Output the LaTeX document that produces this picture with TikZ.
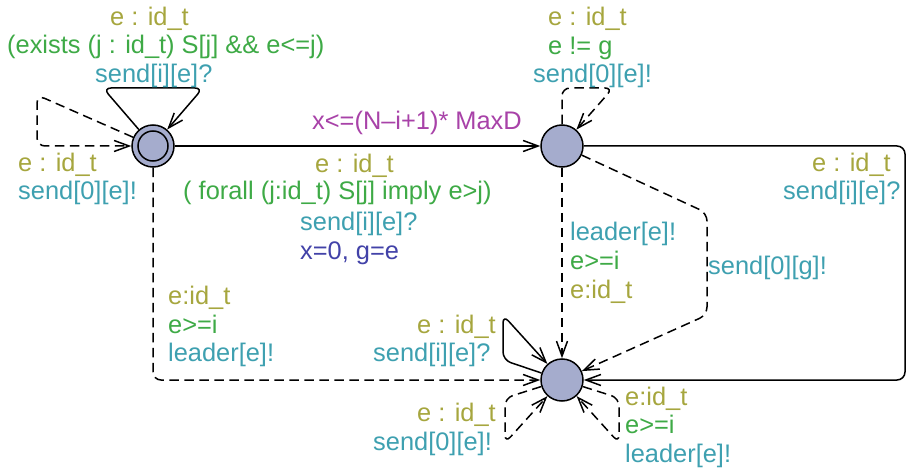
\documentclass[tikz,border=0pt]{standalone}
\usepackage{fontspec}
\setmainfont{Liberation Sans}
\usetikzlibrary{arrows.meta}
\definecolor{olv}{RGB}{166,166,62}
\definecolor{grn}{RGB}{62,170,70}
\definecolor{tel}{RGB}{62,160,176}
\definecolor{mag}{RGB}{168,66,168}
\definecolor{dbl}{RGB}{66,66,168}
\definecolor{locfill}{RGB}{165,172,205}
\begin{document}
\begin{tikzpicture}[x=1pt,y=-1pt,
  loc/.style={circle,draw,line width=1.5pt,fill=locfill,minimum size=42pt,inner sep=0pt},
  edge/.style={line width=1.5pt, rounded corners=8pt, -{Straight Barb[length=15pt,width=11pt]}},
  dsh/.style={edge, dash pattern=on 9.5pt off 5.5pt},
  lbl/.style={anchor=base west, inner sep=0pt, font=\fontsize{25.4}{30}\selectfont},
  olvl/.style={lbl,text=olv}, grnl/.style={lbl,text=grn}, tell/.style={lbl,text=tel},
  magl/.style={lbl,text=mag}, dbll/.style={lbl,text=dbl}]
\useasboundingbox (0,0) rectangle (907,473);
% locations
\node[loc] (A) at (153,146) {};
\draw[line width=1.5pt] (A.center) circle (15pt);
\node[loc] (B) at (562,146) {};
\node[loc] (C) at (562,380) {};
% edges
\draw[edge] (A) -- (B);
\draw[edge] (A) -- (103,88) -- (203,88) -- (A);
\draw[dsh] (A) -- (37,95) -- (37,146) -- (A);
\draw[dsh] (A) -- (153,380) -- (C);
\draw[dsh] (B) -- (562,88) -- (613,88) -- (B);
\draw[dsh] (B) -- (C);
\draw[dsh] (B) -- (707,213) -- (707,315) -- (C);
\draw[edge] (B) -- (905,146) -- (905,380) -- (C);
\draw[edge] (C) -- (503,360) -- (503,315) -- (C);
\draw[dsh] (C) -- (505,398) -- (505,443) -- (C);
\draw[dsh] (C) -- (619,398) -- (619,443) -- (C);
% labels
\node[olvl] (l1) at (110,26) {e : id\_t};
\node[grnl] (l2) at (7,54) {(exists (j : id\_t) S[j] \&\& e<=j)};
\node[tell] (l3) at (95,83) {send[i][e]?};
\node[olvl] (l4) at (18,172) {e : id\_t};
\node[tell] (l5) at (18,200) {send[0][e]!};
\node[magl] (l6) at (312,130) {x<=(N–i+1)* MaxD};
\node[olvl] (l7) at (315,173) {e : id\_t};
\node[grnl] (l8) at (183,200) {( forall (j:id\_t) S[j] imply e>j)};
\node[tell] (l9) at (300,230) {send[i][e]?};
\node[dbll] (l10) at (300,259) {x=0, g=e};
\node[olvl] (l11) at (548,26) {e : id\_t};
\node[grnl] (l12) at (548,55) {e != g};
\node[tell] (l13) at (533,83) {send[0][e]!};
\node[olvl] (l14) at (812,172) {e : id\_t};
\node[tell] (l15) at (783,200) {send[i][e]?};
\node[tell] (l16) at (570,240) {leader[e]!};
\node[grnl] (l17) at (570,269) {e>=i};
\node[olvl] (l18) at (570,298) {e:id\_t};
\node[tell] (l19) at (708,274) {send[0][g]!};
\node[olvl] (l20) at (168,304) {e:id\_t};
\node[grnl] (l21) at (168,333) {e>=i};
\node[tell] (l22) at (168,361) {leader[e]!};
\node[olvl] (l23) at (417,333) {e : id\_t};
\node[tell] (l24) at (373,361) {send[i][e]?};
\node[olvl] (l25) at (417,421) {e : id\_t};
\node[tell] (l26) at (373,450) {send[0][e]!};
\node[olvl] (l27) at (625,405) {e:id\_t};
\node[grnl] (l28) at (625,433) {e>=i};
\node[tell] (l29) at (625,462) {leader[e]!};
\end{tikzpicture}
\end{document}
